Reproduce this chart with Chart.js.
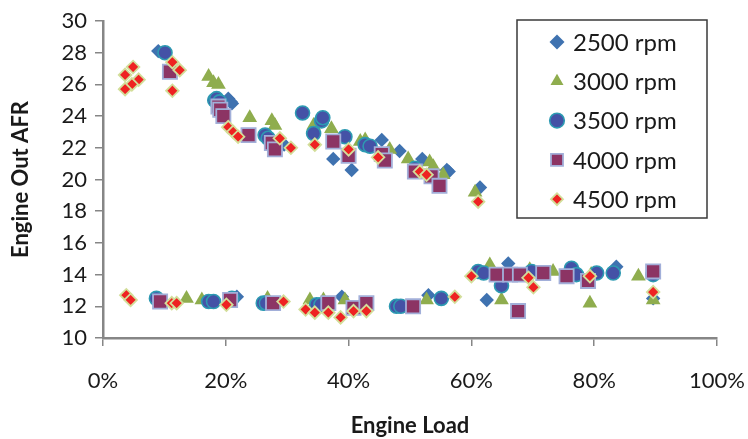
<!DOCTYPE html>
<html>
<head>
<meta charset="utf-8">
<script src="https://cdn.jsdelivr.net/npm/chart.js@4/dist/chart.umd.min.js"></script>
<style>
  html, body { margin: 0; padding: 0; background: #fff; }
  #wrap { width: 748px; height: 439px; }
</style>
</head>
<body>
<div id="wrap"><canvas id="afr"></canvas></div>
<script>
// engine load in %, AFR
var load2500 = [9.0, 20.4, 21.0, 20.8, 29.5, 37.5, 40.5, 45.4, 48.3, 52.0, 56.0, 56.3, 61.4,
                21.8, 38.9, 53.0, 62.5, 66.0, 83.6, 89.6];
var afr2500  = [28.1, 25.1, 24.8, 24.9, 22.2, 21.3, 20.6, 22.5, 21.8, 21.3, 20.6, 20.5, 19.5,
                12.6, 12.6, 12.7, 12.4, 14.7, 14.5, 12.5];

var load3000 = [17.2, 18.0, 18.8, 23.9, 27.5, 28.0, 34.3, 37.2, 41.9, 42.7, 46.7, 49.7, 53.2, 53.8, 55.4, 60.6,
                13.6, 16.1, 26.8, 33.7, 35.9, 39.4, 52.7, 63.0, 64.9, 69.5, 73.3, 79.3, 79.5, 87.2, 89.6];
var afr3000  = [26.5, 26.1, 26.0, 23.9, 23.7, 23.4, 23.4, 23.2, 22.4, 22.5, 21.9, 21.3, 21.1, 20.8, 20.3, 19.2,
                12.5, 12.4, 12.5, 12.4, 12.4, 12.4, 12.4, 14.6, 12.4, 14.3, 14.2, 12.2, 14.0, 13.9, 12.4];

var load3500 = [10.1, 18.2, 18.5, 19.0, 26.4, 26.9, 32.5, 34.3, 35.6, 35.8, 39.4, 42.7, 43.5, 50.8,
                8.7, 17.2, 18.0, 21.0, 26.1, 26.6, 34.8, 35.5, 47.8, 48.5, 55.1, 61.1, 62.0, 64.9,
                69.8, 76.3, 77.1, 80.4, 83.1, 89.6];
var afr3500  = [28.0, 25.0, 25.1, 24.9, 22.8, 22.6, 24.2, 22.9, 23.7, 23.9, 22.7, 22.2, 22.1, 20.7,
                12.5, 12.3, 12.3, 12.5, 12.2, 12.2, 12.1, 12.1, 12.0, 12.0, 12.5, 14.2, 14.1, 13.3,
                14.2, 14.4, 14.0, 14.1, 14.1, 14.0];

var load4000 = [10.9, 18.8, 19.1, 19.6, 23.7, 27.5, 28.0, 37.5, 40.0, 45.4, 45.9, 50.8, 53.5, 54.8,
                9.3, 20.7, 27.7, 36.7, 40.8, 42.9, 50.5, 64.1, 66.3, 67.9, 67.6, 71.7, 75.5, 79.0, 89.6];
var afr4000  = [26.8, 24.6, 24.4, 24.0, 22.8, 22.3, 21.9, 22.4, 21.5, 21.6, 21.2, 20.5, 20.2, 19.6,
                12.3, 12.4, 12.2, 12.2, 11.9, 12.2, 12.0, 14.0, 14.0, 14.0, 11.7, 14.1, 13.9, 13.6, 14.2];

var load4500 = [3.6, 4.9, 5.8, 4.7, 3.6, 11.3, 12.5, 11.3, 20.4, 21.2, 22.0, 28.8, 30.6, 34.5, 40.0, 44.8,
                51.6, 52.7, 61.1,
                3.8, 4.5, 11.2, 12.0, 20.1, 29.4, 33.0, 34.5, 36.7, 38.7, 40.8, 42.9, 57.3, 60.0,
                69.3, 70.1, 79.3, 89.6];
var afr4500  = [26.6, 27.1, 26.3, 26.0, 25.7, 27.4, 26.9, 25.6, 23.3, 23.0, 22.7, 22.6, 22.0, 22.2, 21.9, 21.4,
                20.5, 20.3, 18.6,
                12.7, 12.4, 12.2, 12.2, 12.1, 12.3, 11.8, 11.6, 11.6, 11.3, 11.7, 11.7, 12.6, 13.9,
                13.8, 13.2, 13.9, 12.9];

var seriesNames = ["2500 rpm", "3000 rpm", "3500 rpm", "4000 rpm", "4500 rpm"];
var xTicks = [0, 20, 40, 60, 80, 100];
var yTicks = [10, 12, 14, 16, 18, 20, 22, 24, 26, 28, 30];

function toPoints(xs, ys) {
    var pts = [];
    for (var i = 0; i < xs.length; i++) {
        pts.push({ x: xs[i], y: ys[i] });
    }
    return pts;
}

var styles = [
    { pointStyle: "rectRot", radius: 7.2, bg: "#3F72B0", border: "#3F72B0", bw: 0 },
    { pointStyle: "triangle", radius: 8.5, bg: "#8FAD4E", border: "#8FAD4E", bw: 0 },
    { pointStyle: "circle", radius: 7, bg: "#4452A6", border: "#2D9AB2", bw: 1.6 },
    { pointStyle: "rect", radius: 10, bg: "#8C3464", border: "#A2AFD9", bw: 1.8 },
    { pointStyle: "rectRot", radius: 6.3, bg: "#EE2222", border: "#D3DE9A", bw: 1.8 },
];

var allX = [load2500, load3000, load3500, load4000, load4500];
var allY = [afr2500, afr3000, afr3500, afr4000, afr4500];

var datasets = [];
for (var s = 0; s < 5; s++) {
    datasets.push({
        label: seriesNames[s],
        data: toPoints(allX[s], allY[s]),
        pointStyle: styles[s].pointStyle,
        pointRadius: styles[s].radius,
        pointHoverRadius: styles[s].radius,
        backgroundColor: styles[s].bg,
        borderColor: styles[s].border,
        borderWidth: styles[s].bw,
        order: 4 - s, // later series on top, like excel
    });
}

var FONT = "Lato, 'Open Sans', sans-serif";
var AXIS = "#868686";

// legend with a frame, sitting inside the plot on the right
var boxedLegend = {
    id: "boxedLegend",
    afterDraw(chart) {
        var ctx = chart.ctx;
        var area = chart.chartArea;
        var left = area.right - 200, top = area.top - 1;
        var w = 190, h = 198;
        ctx.save();
        ctx.fillStyle = "#fff";
        ctx.fillRect(left, top, w, h);
        ctx.strokeStyle = "#3a3a3a";
        ctx.lineWidth = 1.5;
        ctx.strokeRect(left, top, w, h);
        ctx.font = "24px " + FONT;
        ctx.textBaseline = "middle";
        for (var i = 0; i < datasets.length; i++) {
            var yy = top + 22 + i * 39.3;
            var st = styles[i];
            ctx.fillStyle = st.bg;
            ctx.strokeStyle = st.border;
            ctx.lineWidth = st.bw;
            var r = st.pointStyle === "rect" ? 8.5 : (st.pointStyle === "triangle" ? 7.5 : st.radius + 0.3);
            if (i === 4) r = 6;
            Chart.helpers.drawPoint(ctx, {
                pointStyle: st.pointStyle, radius: r, borderWidth: st.bw, rotation: 0
            }, left + 40, yy);
            ctx.fillStyle = "#1a1a1a";
            ctx.fillText(seriesNames[i], left + 56, yy + 1);
        }
        ctx.restore();
    }
};

new Chart(document.getElementById("afr"), {
    type: "scatter",
    data: { datasets: datasets },
    options: {
        responsive: true,
        maintainAspectRatio: false,
        animation: false,
        layout: { padding: { top: 21, right: 31, bottom: 0, left: 0 } },
        plugins: {
            legend: { display: false },
            tooltip: { enabled: false },
        },
        scales: {
            x: {
                type: "linear",
                min: 0,
                max: 100,
                afterBuildTicks: function (scale) {
                    scale.ticks = xTicks.map(function (v) { return { value: v }; });
                },
                ticks: {
                    callback: function (v) { return v + "%"; },
                    font: { family: FONT, size: 22 },
                    color: "#1a1a1a",
                    padding: 22,
                    maxRotation: 0,
                },
                grid: { drawOnChartArea: false, drawTicks: true, tickLength: 8, color: AXIS, lineWidth: 1.5 },
                border: { display: true, color: AXIS, width: 2.5 },
                title: {
                    display: true,
                    text: "Engine Load",
                    font: { family: FONT, size: 22, weight: "bold" },
                    color: "#1a1a1a",
                    padding: { top: 0, bottom: 0 },
                },
                afterFit: function (scale) {
                    scale.height = 101;
                    scale.paddingLeft = 0;
                    scale.paddingRight = 0;
                },
            },
            y: {
                type: "linear",
                min: 10,
                max: 30,
                afterBuildTicks: function (scale) {
                    scale.ticks = yTicks.map(function (v) { return { value: v }; });
                },
                ticks: {
                    font: { family: FONT, size: 22 },
                    color: "#1a1a1a",
                    padding: 8,
                },
                grid: { drawOnChartArea: false, drawTicks: true, tickLength: 8, color: AXIS, lineWidth: 1.5 },
                border: { display: true, color: AXIS, width: 2.5 },
                title: {
                    display: true,
                    text: "Engine Out AFR",
                    font: { family: FONT, size: 22, weight: "bold" },
                    color: "#1a1a1a",
                    padding: { top: 8, bottom: 0 },
                },
                afterFit: function (scale) {
                    scale.width = 103;
                    scale.paddingTop = 0;
                    scale.paddingBottom = 0;
                },
            },
        },
    },
    plugins: [boxedLegend],
});
</script>
</body>
</html>
